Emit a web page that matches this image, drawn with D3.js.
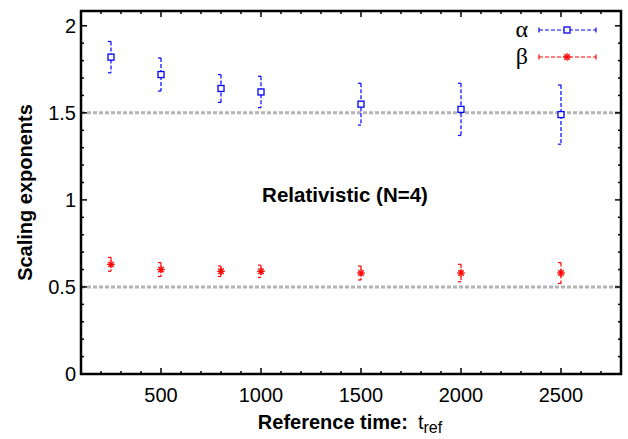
<!DOCTYPE html>
<html>
<head>
<meta charset="utf-8">
<script src="https://cdn.jsdelivr.net/npm/d3@7"></script>
<style>
  body { margin: 0; background: #fff; }
  svg { display: block; font-family: "Liberation Sans", Arial, sans-serif; }
</style>
</head>
<body>
<svg width="628" height="439"></svg>
<script>
// reference times
const tRef = [250, 500, 800, 1000, 1500, 2000, 2500];
// alpha exponent and its error
const alphaVal = [1.82, 1.72, 1.64, 1.62, 1.55, 1.52, 1.49];
const alphaErr = [0.09, 0.095, 0.08, 0.09, 0.12, 0.15, 0.17];
// beta exponent and its error
const betaVal = [0.63, 0.60, 0.59, 0.59, 0.58, 0.58, 0.58];
const betaErr = [0.04, 0.04, 0.03, 0.035, 0.04, 0.05, 0.06];
// reference lines
const refLines = [1.5, 0.5];
const xTicks = [500, 1000, 1500, 2000, 2500];
const yTicks = [0, 0.5, 1, 1.5, 2];

const margin = { top: 11, right: 7, bottom: 65, left: 81 };
const width = 628 - margin.left - margin.right;
const height = 439 - margin.top - margin.bottom;

const svg = d3.select('svg')
    .append('g')
    .attr('transform', `translate(${margin.left},${margin.top})`);

const x = d3.scaleLinear().domain([100, 2800]).range([0, width]);
const y = d3.scaleLinear().domain([0, 2.085]).range([height, 0]);

// dotted reference lines
svg.selectAll('.ref')
    .data(refLines)
    .enter().append('line')
    .attr('x1', 0).attr('x2', width)
    .attr('y1', d => y(d)).attr('y2', d => y(d))
    .attr('stroke', '#b4b4b4')
    .attr('stroke-width', 3)
    .attr('stroke-dasharray', '4,2');

// ticks on all four sides (pointing in)
const xMinor = d3.range(200, 2800, 100);
const yMinor = d3.range(0.1, 2.08, 0.1);

function drawTicks() {
    const g = svg.append('g').attr('stroke', '#000').attr('stroke-width', 1.5);
    xMinor.forEach(v => {
        const major = v % 500 === 0;
        const len = major ? 6 : 3;
        g.append('line').attr('x1', x(v)).attr('x2', x(v)).attr('y1', height).attr('y2', height - len);
        g.append('line').attr('x1', x(v)).attr('x2', x(v)).attr('y1', 0).attr('y2', len);
    });
    yMinor.forEach(v => {
        const major = Math.abs(v * 2 - Math.round(v * 2)) < 1e-6;
        const len = major ? 6 : 3;
        g.append('line').attr('y1', y(v)).attr('y2', y(v)).attr('x1', 0).attr('x2', len);
        g.append('line').attr('y1', y(v)).attr('y2', y(v)).attr('x1', width).attr('x2', width - len);
    });
}
drawTicks();

// frame
svg.append('rect')
    .attr('width', width).attr('height', height)
    .attr('fill', 'none').attr('stroke', '#000').attr('stroke-width', 2.5);

// tick labels
svg.selectAll('.xl')
    .data(xTicks)
    .enter().append('text')
    .attr('x', d => x(d)).attr('y', height + 28)
    .attr('text-anchor', 'middle')
    .attr('font-size', 20)
    .text(d => d);

svg.selectAll('.yl')
    .data(yTicks)
    .enter().append('text')
    .attr('x', -5).attr('y', d => y(d) + 7)
    .attr('text-anchor', 'end')
    .attr('font-size', 20)
    .text(d => d);

// series
const series = [
    { name: 'α', vals: alphaVal, errs: alphaErr, color: '#0000ff', marker: 'square' },
    { name: 'β', vals: betaVal, errs: betaErr, color: '#ff0000', marker: 'star' }
];

function drawMarker(g, type, color) {
    if (type === 'square') {
        g.append('rect')
            .attr('x', -3).attr('y', -3).attr('width', 6).attr('height', 6)
            .attr('fill', '#fff').attr('stroke', color).attr('stroke-width', 1.3);
    } else {
        const r = 3.8;
        [0, 45, 90, 135].forEach(a => {
            const rad = a * Math.PI / 180;
            g.append('line')
                .attr('x1', -r * Math.cos(rad)).attr('y1', -r * Math.sin(rad))
                .attr('x2', r * Math.cos(rad)).attr('y2', r * Math.sin(rad))
                .attr('stroke', color).attr('stroke-width', 1.4);
        });
    }
}

series.forEach(s => {
    const pts = tRef.map((t, i) => ({ t, v: s.vals[i], e: s.errs[i] }));
    const grp = svg.append('g');
    const pt = grp.selectAll('g')
        .data(pts)
        .enter().append('g');
    pt.append('line')
        .attr('x1', d => x(d.t)).attr('x2', d => x(d.t))
        .attr('y1', d => y(d.v + d.e)).attr('y2', d => y(d.v - d.e))
        .attr('stroke', s.color).attr('stroke-width', 1.2)
        .attr('stroke-dasharray', '4,2');
    [1, -1].forEach(sign => {
        pt.append('line')
            .attr('x1', d => x(d.t) - 3).attr('x2', d => x(d.t) + 2)
            .attr('y1', d => y(d.v + sign * d.e)).attr('y2', d => y(d.v + sign * d.e))
            .attr('stroke', s.color).attr('stroke-width', 1.2)
            .attr('stroke-dasharray', '3,2');
    });
    pt.each(function(d) {
        const m = d3.select(this).append('g')
            .attr('transform', `translate(${x(d.t)},${y(d.v)})`);
        drawMarker(m, s.marker, s.color);
    });
});

// legend
const legend = svg.append('g').attr('transform', `translate(${539 - margin.left}, ${30 - margin.top})`);
series.forEach((s, i) => {
    const item = legend.append('g').attr('transform', `translate(0, ${i * 27})`);
    item.append('text')
        .attr('x', -11).attr('y', 7)
        .attr('text-anchor', 'end')
        .attr('font-family', '"Liberation Serif", "DejaVu Serif", serif')
        .attr('font-size', 24)
        .text(s.name);
    item.append('line')
        .attr('x1', 0).attr('x2', 57).attr('y1', 0).attr('y2', 0)
        .attr('stroke', s.color).attr('stroke-width', 1.2)
        .attr('stroke-dasharray', '4,2');
    [0, 57].forEach(xx => {
        item.append('line')
            .attr('x1', xx).attr('x2', xx).attr('y1', -2.5).attr('y2', 2.5)
            .attr('stroke', s.color).attr('stroke-width', 1.2);
    });
    const m = item.append('g').attr('transform', 'translate(28,0)');
    drawMarker(m, s.marker, s.color);
});

// annotation
svg.append('text')
    .attr('x', 345 - margin.left).attr('y', 202 - margin.top)
    .attr('text-anchor', 'middle')
    .attr('font-size', 20.5).attr('font-weight', 'bold')
    .text('Relativistic (N=4)');

// axis labels
svg.append('text')
    .attr('transform', 'rotate(-90)')
    .attr('x', -height / 2).attr('y', 32 - margin.left)
    .attr('text-anchor', 'middle')
    .attr('font-size', 20).attr('font-weight', 'bold')
    .text('Scaling exponents');

const xl = svg.append('text')
    .attr('x', 350 - margin.left).attr('y', 429 - margin.top)
    .attr('text-anchor', 'middle')
    .attr('font-size', 20);
xl.append('tspan').attr('font-weight', 'bold').text('Reference time:');
xl.append('tspan').attr('dx', 10).text('t');
xl.append('tspan').attr('dy', 4).attr('font-size', 16).text('ref');
</script>
</body>
</html>
